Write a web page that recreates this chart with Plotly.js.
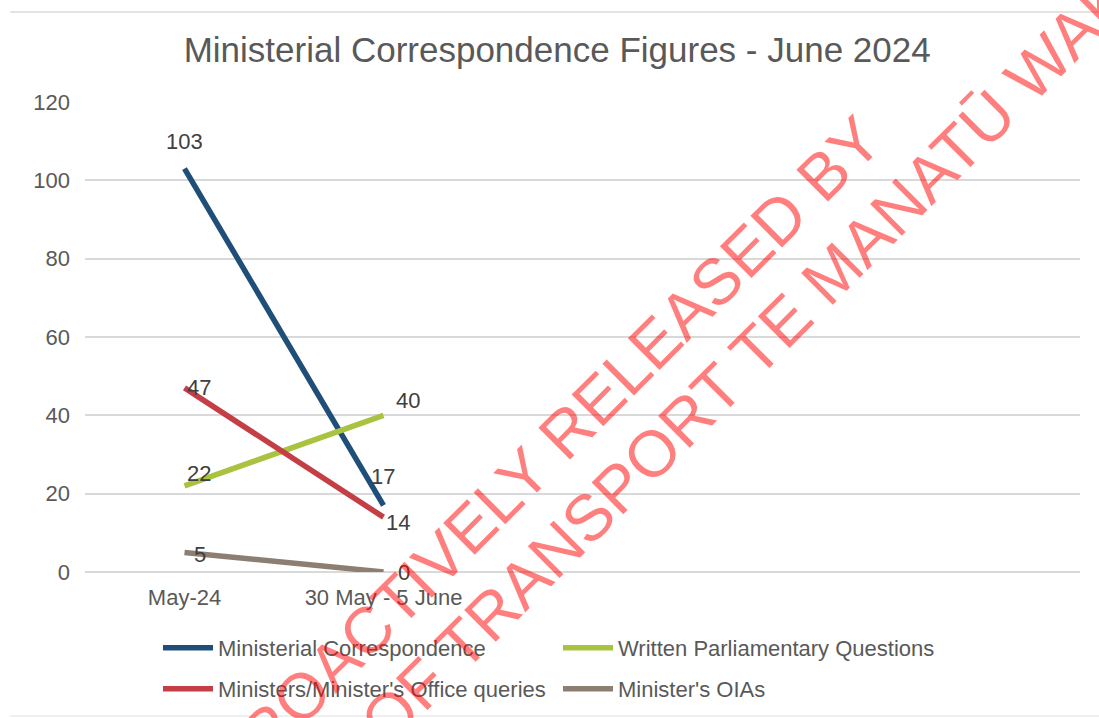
<!DOCTYPE html>
<html>
<head>
<meta charset="utf-8">
<script src="https://cdn.plot.ly/plotly-3.0.1.min.js"></script>
<style>html,body{margin:0;padding:0;background:#fff;}#chart{width:1099px;height:718px;}</style>
</head>
<body>
<div id="chart"></div>
<script>
// ---- data ----
const categories = ["May-24", "30 May - 5 June"];
const seriesNames = ["Ministerial Correspondence", "Written Parliamentary Questions", "Ministers/Minister's Office queries", "Minister's OIAs"];
const ministerialCorrespondence = [103, 17];
const writtenParliamentaryQuestions = [22, 40];
const ministersOfficeQueries = [47, 14];
const ministersOIAs = [5, 0];
const yTicks = [0, 20, 40, 60, 80, 100, 120];
const chartTitle = "Ministerial Correspondence Figures - June 2024";
const watermarkLine1 = "PROACTIVELY RELEASED BY";
const watermarkLine2 = "MINISTRY OF TRANSPORT TE MANATŪ WAKA";

// ---- styles ----
const colors = ["#1F4E79", "#A9C23F", "#C43E46", "#8C7F72"];
const allSeries = [ministerialCorrespondence, writtenParliamentaryQuestions, ministersOfficeQueries, ministersOIAs];
const legendOf = ["legend", "legend", "legend2", "legend2"];
// label placement per series/point: [xanchor, xshift, yshift]
const labelPlacement = [
  [["center", 0, 27], ["center", -1, 29]],
  [["left", 0, 12], ["left", 10, 15]],
  [["left", 0, 0], ["left", 0, -5]],
  [["left", 7, -2], ["left", 12, 0]]
];
const textColor = "#595959";
const font = "Liberation Sans, Arial, sans-serif";

const traces = allSeries.map((vals, i) => ({
  type: "scatter",
  mode: "lines",
  x: categories,
  y: vals,
  name: seriesNames[i],
  legend: legendOf[i],
  line: {color: colors[i], width: 5.5},
  hoverinfo: "skip"
}));

const annotations = [];
allSeries.forEach((vals, i) => {
  vals.forEach((v, j) => {
    const p = labelPlacement[i][j];
    annotations.push({
      x: categories[j], y: v, xref: "x", yref: "y",
      text: String(v), showarrow: false,
      xanchor: p[0], yanchor: "middle", xshift: p[1], yshift: p[2],
      font: {family: font, size: 22, color: "#404040"}
    });
  });
});
annotations.push({
  xref: "paper", yref: "paper", x: 0.4623, y: 0.2553,
  xanchor: "center", yanchor: "middle",
  text: watermarkLine1, showarrow: false, textangle: -45,
  font: {family: font, size: 65, color: "rgba(255,0,0,0.5)"}
});
annotations.push({
  xref: "paper", yref: "paper", x: 0.5638, y: 0.2404,
  xanchor: "center", yanchor: "middle",
  text: watermarkLine2, showarrow: false, textangle: -45,
  font: {family: font, size: 65, color: "rgba(255,0,0,0.5)"}
});

const legendBase = {
  orientation: "h",
  xref: "container", yref: "container",
  xanchor: "left", yanchor: "middle",
  font: {family: font, size: 22, color: textColor},
  bgcolor: "rgba(0,0,0,0)",
  itemwidth: 50,
  entrywidth: 335,
  entrywidthmode: "pixels",
  traceorder: "normal"
};

const layout = {
  width: 1099, height: 718,
  paper_bgcolor: "#ffffff", plot_bgcolor: "#ffffff",
  margin: {l: 85, r: 19, t: 102, b: 146},
  title: {
    text: chartTitle, xref: "container", yref: "container",
    x: 0.507, y: 1 - 50 / 718, xanchor: "center", yanchor: "middle",
    font: {family: font, size: 35, color: textColor}
  },
  xaxis: {
    type: "category", range: [-0.5, 4.5],
    showgrid: false, showline: false, zeroline: false, ticks: "",
    tickfont: {family: font, size: 22, color: textColor},
    ticklabelstandoff: 10, fixedrange: true
  },
  yaxis: {
    range: [0, 120], tickvals: yTicks, ticktext: yTicks.map(String),
    showgrid: true, gridcolor: "#D9D9D9", gridwidth: 2,
    zeroline: true, zerolinecolor: "#D9D9D9", zerolinewidth: 2,
    showline: false, ticks: "",
    tickfont: {family: font, size: 22, color: textColor},
    ticklabelstandoff: 14, fixedrange: true
  },
  legend: Object.assign({}, legendBase, {x: 158 / 1099, y: 1 - 648 / 718}),
  legend2: Object.assign({}, legendBase, {x: 158 / 1099, y: 1 - 689 / 718}),
  annotations: annotations,
  shapes: [
    {type: "line", xref: "paper", yref: "paper", x0: -0.075, x1: 1.03, y0: (572 - 12) / 470, y1: (572 - 12) / 470, line: {color: "#E3E3E3", width: 2}},
    {type: "line", xref: "paper", yref: "paper", x0: -0.075, x1: 1.03, y0: (572 - 716) / 470, y1: (572 - 716) / 470, line: {color: "#F0F0F0", width: 2}}
  ],
  showlegend: true
};

Plotly.newPlot("chart", traces, layout, {displayModeBar: false, staticPlot: true});
</script>
</body>
</html>
